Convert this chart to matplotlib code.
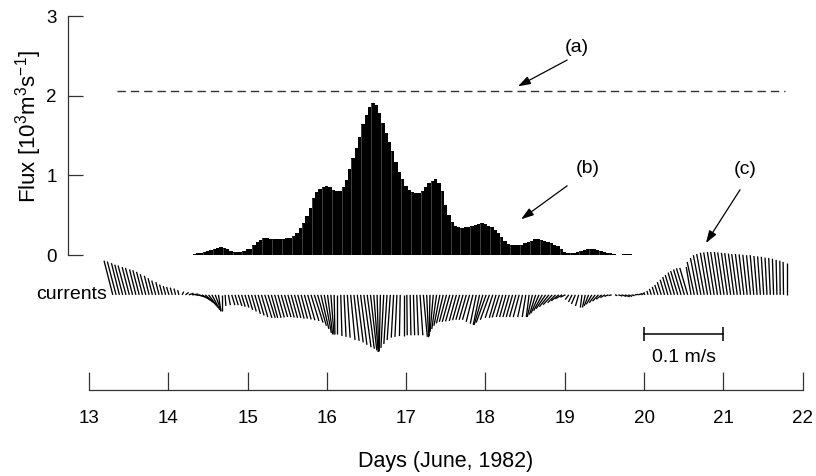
import numpy as np
import matplotlib
matplotlib.use("Agg")
import matplotlib.pyplot as plt
from matplotlib.collections import LineCollection

plt.rcParams['font.family'] = ['Liberation Sans', 'DejaVu Sans']
plt.rcParams['mathtext.default'] = 'regular'

# hourly flux [10^3 m^3/s], starting June 14.31
flux_start = 14.31
flux = [0.01, 0.02, 0.03, 0.04, 0.05, 0.06, 0.07, 0.09, 0.10, 0.09,
        0.07, 0.05, 0.04, 0.04, 0.04, 0.05, 0.07, 0.08, 0.12, 0.16,
        0.19, 0.22, 0.21, 0.20, 0.20, 0.20, 0.20, 0.20, 0.21, 0.22,
        0.24, 0.28, 0.34, 0.40, 0.49, 0.59, 0.72, 0.79, 0.83, 0.86,
        0.87, 0.85, 0.82, 0.81, 0.80, 0.85, 0.94, 1.08, 1.22, 1.34,
        1.48, 1.64, 1.76, 1.86, 1.91, 1.88, 1.78, 1.66, 1.53, 1.42,
        1.31, 1.17, 1.04, 0.95, 0.87, 0.82, 0.79, 0.78, 0.78, 0.81,
        0.86, 0.90, 0.93, 0.95, 0.91, 0.80, 0.63, 0.50, 0.42, 0.36,
        0.35, 0.34, 0.35, 0.35, 0.36, 0.38, 0.39, 0.40, 0.39, 0.37,
        0.35, 0.32, 0.28, 0.23, 0.18, 0.14, 0.12, 0.12, 0.12, 0.13,
        0.15, 0.17, 0.18, 0.20, 0.20, 0.19, 0.18, 0.16, 0.15, 0.13,
        0.11, 0.07, 0.04, 0.03, 0.03, 0.03, 0.04, 0.05, 0.06, 0.07,
        0.07, 0.07, 0.06, 0.05, 0.04, 0.03, 0.02, 0.01,
        0.0, 0.0, 0.015, 0.015, 0.015]

# threshold flux (a)
threshold = 2.06
threshold_span = [13.35, 21.78]

# hourly currents [cm/s], starting June 13.3
current_start = 13.3
current_u = [-1.1, -1.1, -1.0, -1.0, -1.0, -0.9, -0.9, -0.8, -0.8, -0.75, -0.7, -0.6, -0.55, -0.5, -0.4, -0.35, -0.3, -0.3, -0.25, -0.2, -0.15,
             0.2, 0.4, 0.6, 0.8,
             1.1, 1.3, 1.4, 1.4, 1.2, 1.0, 0.75, 0.3, 0.0,
             0.1, 0.25, 0.4, 0.4, 0.45, 0.45, 0.5, 0.55, 0.6, 0.7, 0.75, 0.8, 0.9, 0.9,
             0.8, 0.8, 0.8, 0.8, 0.8, 0.8, 0.8, 0.8, 0.8, 0.8, 0.85, 0.9, 1.0, 1.1, 1.1, 1.0, 0.9, 0.65, 0.4, 0.1, 0.0,
             0.15, 0.25, 0.35, 0.55, 0.65, 0.75, 0.8, 0.9, 0.9, 0.8, 0.55, 0.2, -0.15,
             -0.35, -0.4, -0.4, -0.3, -0.25, -0.1, 0.0, 0.05, 0.1, 0.15, 0.2, 0.35, 0.5, 0.25, -0.1,
             -0.4, -0.6, -0.75, -0.85, -0.9, -0.95, -0.95, -0.9, -0.9, -0.9, -0.9, -0.9,
             -0.85, -0.75, -0.8, -1.1, -1.25, -1.15, -0.95, -0.85, -0.9, -0.8, -0.8, -0.8, -0.8, -0.8, -0.75, -0.6, -0.45, -0.35, -0.65,
             -0.8, -1.0, -1.1, -1.2, -1.2, -1.15, -1.0, -0.95, -0.85, -0.65,
             -0.45, -0.45, -0.5, -0.4, -0.2, -0.35, -0.55, -0.7, -0.75, -0.75, -0.7, -0.6, -0.5, -0.4,
             0.3, 0.5, 0.6, 0.6, 0.5, 0.4, 0.4, 0.5, 0.4,
             -0.1, -0.15, -0.25, -0.3, -0.4, -0.5, -0.55, -0.65, -0.75, -0.8, -0.9, -0.95, -1.0, -1.0, -0.6,
             -0.9, -0.9, -0.95, -0.95, -0.9, -0.9, -0.85, -0.85, -0.8, -0.8, -0.75, -0.75, -0.7, -0.7, -0.65,
             -0.6, -0.55, -0.5, -0.45, -0.4, -0.35, -0.3, -0.25, -0.2, -0.15, -0.1, -0.05, -0.05, 0.0]
current_v = [4.3, 4.2, 4.0, 3.8, 3.7, 3.5, 3.4, 3.2, 3.1, 2.9, 2.6, 2.4, 2.1, 1.8, 1.6, 1.3, 1.1, 1.0, 0.9, 0.8, 0.6,
             0.4, 0.3, 0.2, 0.1,
             -0.15, -0.45, -0.9, -1.3, -1.6, -1.9, -2.0, -2.1, -2.0,
             -1.4, -1.3, -1.3, -1.3, -1.4, -1.5, -1.6, -1.9, -2.1, -2.4, -2.6, -2.8, -2.9, -2.9,
             -2.9, -2.9, -2.85, -2.8, -2.8, -2.85, -2.9, -2.9, -3.0, -3.0, -3.1, -3.2, -3.3, -3.5, -3.9, -4.3, -4.8, -5.0, -5.0, -5.0, -5.0,
             -5.2, -5.3, -5.4, -5.7, -5.8, -6.0, -6.3, -6.6, -6.8, -7.0, -7.2, -7.2, -7.1,
             -6.7, -6.2, -5.7, -5.4, -5.3, -5.2, -5.2, -5.1, -5.1, -5.1, -5.1, -5.1, -5.3, -5.35, -5.2,
             -4.7, -4.3, -3.9, -3.6, -3.4, -3.4, -3.35, -3.3, -3.2, -3.15, -3.15, -3.15,
             -3.4, -3.65, -3.8, -3.8, -3.5, -3.15, -2.9, -2.9, -2.85, -2.8, -2.8, -2.8, -2.8, -2.8, -2.8, -2.8, -2.8, -2.8, -2.8,
             -2.5, -2.3, -2.0, -1.75, -1.5, -1.25, -1.0, -0.75, -0.5, -0.3,
             -0.6, -0.9, -1.15, -1.4, -1.6, -1.6, -1.4, -1.2, -1.0, -0.8, -0.55, -0.35, -0.2, -0.1,
             -0.1, -0.15, -0.2, -0.25, -0.2, -0.1, 0.05, 0.15, 0.25,
             0.3, 0.5, 0.75, 1.0, 1.25, 1.6, 1.9, 2.25, 2.5, 2.8, 3.0, 3.2, 3.35, 3.4, 3.5,
             4.15, 4.65, 5.0, 5.15, 5.3, 5.35, 5.4, 5.4, 5.4, 5.35, 5.3, 5.25, 5.2, 5.15, 5.15,
             5.1, 5.05, 5.0, 5.0, 4.9, 4.85, 4.8, 4.7, 4.65, 4.55, 4.4, 4.3, 4.15, 4.0]

day_ticks = list(range(13, 23))
flux_ticks = [0, 1, 2, 3]

current_base = -0.5      # where the sticks are anchored
scale_bar = [20, 21]     # 0.1 m/s == 1 day
axis_y = -1.70

fig = plt.figure(figsize=(8.16, 4.76), dpi=100)
ax = fig.add_axes([0, 0, 1, 1])
ax.set_xlim(11.878, 22.168)
ax.set_ylim(-2.776, 3.204)

# flux bars
flux_t = flux_start + np.arange(len(flux)) / 24
ax.bar(flux_t, flux, width=1 / 24, align='edge', color='black', linewidth=0)
ax.vlines(flux_t[3:128:3], 0, np.array(flux)[3:128:3], color='white', lw=0.5, alpha=0.35)

# dashed threshold
ax.plot(threshold_span, [threshold, threshold], color='#333333', lw=1.0,
        linestyle=(0, (6, 3.6)))

# current sticks (10 cm/s == 1 day along x, same pixel length along y)
px_x = 816 / (22.168 - 11.878)
px_y = 476 / (3.204 + 2.776)
ct = current_start + np.arange(len(current_u)) / 24
cu = np.array(current_u) / 10
cv = np.array(current_v) / 10 * px_x / px_y
segs = [[(t, current_base), (t + u, current_base + v)] for t, u, v in zip(ct, cu, cv)]
ax.add_collection(LineCollection(segs, colors='black', linewidths=0.95))
ax.text(13.23, current_base, 'currents', fontsize=14, ha='right', va='center')

# scale bar
ax.plot(scale_bar, [-0.995, -0.995], color='black', lw=1.1)
ax.vlines(scale_bar, -1.08, -0.91, color='black', lw=1.1)
ax.text(np.mean(scale_bar), -1.29, '0.1 m/s', fontsize=14, ha='center', va='center')

# labels (a) (b) (c)
arrow = dict(arrowstyle='-|>,head_length=0.75,head_width=0.25', color='black', lw=0.9,
             shrinkA=0, shrinkB=0)
ax.text(19.15, 2.61, '(a)', fontsize=14, ha='center', va='center')
ax.annotate('', xy=(18.41, 2.12), xytext=(19.03, 2.45), arrowprops=arrow)
ax.text(19.29, 1.09, '(b)', fontsize=14, ha='center', va='center')
ax.annotate('', xy=(18.45, 0.45), xytext=(19.03, 0.87), arrowprops=arrow)
ax.text(21.28, 1.07, '(c)', fontsize=14, ha='center', va='center')
ax.annotate('', xy=(20.78, 0.15), xytext=(21.21, 0.82), arrowprops=arrow)

# axes styling
for s in ['top', 'right']:
    ax.spines[s].set_visible(False)
ax.spines['left'].set_position(('data', 12.735))
ax.spines['left'].set_bounds(0, 3)
ax.spines['bottom'].set_position(('data', axis_y))
ax.spines['bottom'].set_bounds(13, 22)
for s in ['left', 'bottom']:
    ax.spines[s].set_color('#333333')
    ax.spines[s].set_linewidth(0.9)
ax.set_yticks(flux_ticks)
ax.set_xticks(day_ticks)
ax.tick_params(axis='y', direction='in', length=11, width=0.9, color='#333333',
               labelsize=13.5, pad=8)
ax.tick_params(axis='x', direction='in', length=13, width=0.9, color='#333333',
               labelsize=13.5, pad=14)

fig.text(446 / 816, 1 - 462 / 476, 'Days (June, 1982)', fontsize=15.5, ha='center', va='center')
fig.text(29 / 816, 1 - 127 / 476, 'Flux [10$^3$m$^3$s$^{-1}$]', fontsize=16,
         rotation=90, ha='center', va='center')

fig.savefig('out.png', dpi=100)
